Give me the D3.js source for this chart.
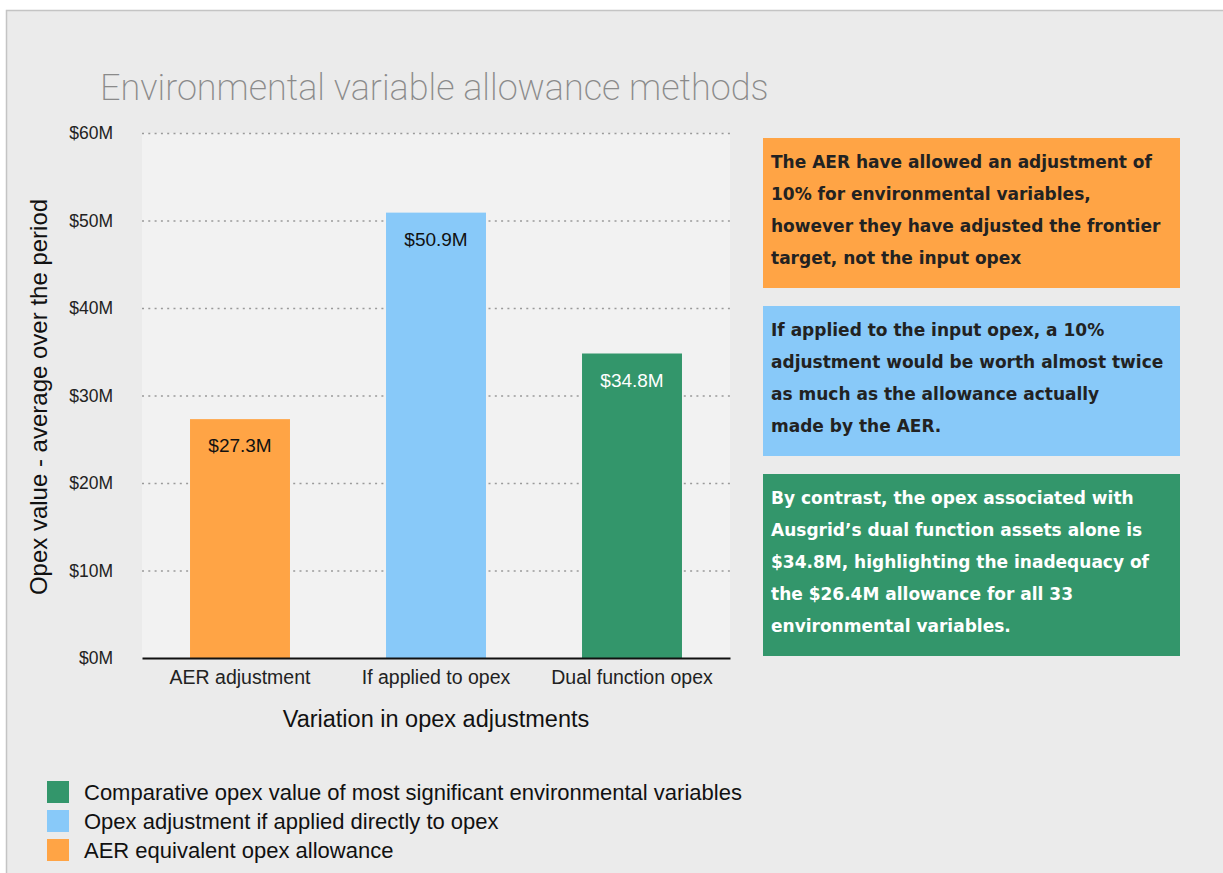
<!DOCTYPE html>
<html>
<head>
<meta charset="utf-8">
<script src="https://cdn.jsdelivr.net/npm/d3@7"></script>
<style>
  body { margin: 0; background: #fff; }
  svg { display: block; }
</style>
</head>
<body>
<div id="chart"></div>
<script>
// data
const categories = ["AER adjustment", "If applied to opex", "Dual function opex"];
const values = [27.3, 50.9, 34.8];
const barColors = ["#ffa445", "#88c9f9", "#33966b"];
const valueLabelColors = ["#111", "#111", "#fff"];
const yTicks = [0, 10, 20, 30, 40, 50, 60];

const legendLabels = [
  "Comparative opex value of most significant environmental variables",
  "Opex adjustment if applied directly to opex",
  "AER equivalent opex allowance"
];
const legendColors = ["#33966b", "#88c9f9", "#ffa445"];

const notes = [
  ["The AER have allowed an adjustment of", "10% for environmental variables,", "however they have adjusted the frontier", "target, not the input opex"],
  ["If applied to the input opex, a 10%", "adjustment would be worth almost twice", "as much as the allowance actually", "made by the AER."],
  ["By contrast, the opex associated with", "Ausgrid\u2019s dual function assets alone is", "$34.8M, highlighting the inadequacy of", "the $26.4M allowance for all 33", "environmental variables."]
];
const noteColors = ["#ffa445", "#88c9f9", "#33966b"];
const noteTextColors = ["#222", "#222", "#fff"];

const W = 1223, H = 873;
const margin = { top: 133, left: 142, right: 493, bottom: 215 };
const width = W - margin.left - margin.right;
const height = H - margin.top - margin.bottom;

const svg = d3.select("#chart").append("svg").attr("width", W).attr("height", H);

// slide panel
svg.append("rect")
  .attr("x", 6.5).attr("y", 10.5)
  .attr("width", W + 20).attr("height", H + 20)
  .attr("fill", "#ebebeb")
  .attr("stroke", "#c4c4c4")
  .attr("stroke-width", 1.5);

svg.append("text")
  .attr("x", 100).attr("y", 100)
  .style("font-family", "Roboto, 'Open Sans', sans-serif")
  .style("font-weight", 200)
  .style("font-size", "36px")
  .style("fill", "#8a8a8a")
  .text("Environmental variable allowance methods");

const g = svg.append("g").attr("transform", `translate(${margin.left},${margin.top})`);

g.append("rect")
  .attr("width", width).attr("height", height)
  .attr("fill", "#f2f2f2");

const xScale = d3.scaleBand()
  .domain(categories)
  .range([0, width])
  .paddingInner(0.49)
  .paddingOuter(0.245);

const yScale = d3.scaleLinear().domain([0, 60]).range([height, 0]);

// dotted gridlines
const grid = g.append("g")
  .call(d3.axisLeft(yScale).tickValues(yTicks.filter((d) => d > 0)).tickSize(-width).tickFormat(""));
grid.select(".domain").remove();
grid.selectAll("line")
  .attr("stroke", "#9a9a9a")
  .attr("stroke-width", 1.5)
  .attr("stroke-dasharray", "2,4.3");

// y axis labels
const yAxis = g.append("g")
  .call(d3.axisLeft(yScale).tickValues(yTicks).tickSize(0).tickPadding(29).tickFormat((d) => `$${d}M`));
yAxis.select(".domain").remove();
yAxis.selectAll("text")
  .style("font-family", "'Liberation Sans', Arial, sans-serif")
  .style("font-size", "17.5px")
  .style("fill", "#222");

// bars
g.selectAll(".bar")
  .data(values)
  .enter()
  .append("rect")
  .attr("class", "bar")
  .attr("x", (d, i) => xScale(categories[i]))
  .attr("y", (d) => yScale(d))
  .attr("width", xScale.bandwidth())
  .attr("height", (d) => height - yScale(d))
  .attr("fill", (d, i) => barColors[i]);

g.selectAll(".value-label")
  .data(values)
  .enter()
  .append("text")
  .attr("class", "value-label")
  .attr("x", (d, i) => xScale(categories[i]) + xScale.bandwidth() / 2)
  .attr("y", (d) => yScale(d) + 33)
  .attr("text-anchor", "middle")
  .style("font-family", "'Liberation Sans', Arial, sans-serif")
  .style("font-size", "19px")
  .style("fill", (d, i) => valueLabelColors[i])
  .text((d) => `$${d.toFixed(1)}M`);

// x axis
const xAxis = g.append("g")
  .attr("transform", `translate(0,${height})`)
  .call(d3.axisBottom(xScale).tickSize(0).tickPadding(12));
xAxis.select(".domain")
  .attr("stroke", "#111")
  .attr("stroke-width", 2);
xAxis.selectAll("text")
  .style("font-family", "'Liberation Sans', Arial, sans-serif")
  .style("font-size", "19.5px")
  .style("fill", "#222");

g.append("text")
  .attr("x", width / 2)
  .attr("y", height + 69)
  .attr("text-anchor", "middle")
  .style("font-family", "'Liberation Sans', Arial, sans-serif")
  .style("font-size", "23.5px")
  .style("fill", "#111")
  .text("Variation in opex adjustments");

svg.append("text")
  .attr("transform", "rotate(-90)")
  .attr("x", -397)
  .attr("y", 47)
  .attr("text-anchor", "middle")
  .style("font-family", "'Liberation Sans', Arial, sans-serif")
  .style("font-size", "24px")
  .style("fill", "#111")
  .text("Opex value - average over the period");

// note boxes
const noteBoxes = [
  { y: 138, h: 150 },
  { y: 306, h: 150 },
  { y: 474, h: 182 }
];
notes.forEach((lines, i) => {
  const box = svg.append("g").attr("transform", `translate(763,${noteBoxes[i].y})`);
  box.append("rect")
    .attr("width", 417)
    .attr("height", noteBoxes[i].h)
    .attr("fill", noteColors[i]);
  box.append("text")
    .style("font-family", "'DejaVu Sans', sans-serif")
    .style("font-weight", "bold")
    .style("font-size", "17px")
    .style("fill", noteTextColors[i])
    .selectAll("tspan")
    .data(lines)
    .enter()
    .append("tspan")
    .attr("x", 8)
    .attr("y", (d, j) => 30 + j * 32)
    .text((d) => d);
});

// legend
const legend = svg.append("g").attr("transform", "translate(47,781)");
legendLabels.forEach((label, i) => {
  const row = legend.append("g").attr("transform", `translate(0,${i * 29})`);
  row.append("rect").attr("width", 22).attr("height", 22).attr("fill", legendColors[i]);
  row.append("text")
    .attr("x", 37)
    .attr("y", 18.5)
    .style("font-family", "'Liberation Sans', Arial, sans-serif")
    .style("font-size", "22px")
    .style("fill", "#111")
    .text(label);
});
</script>
</body>
</html>
